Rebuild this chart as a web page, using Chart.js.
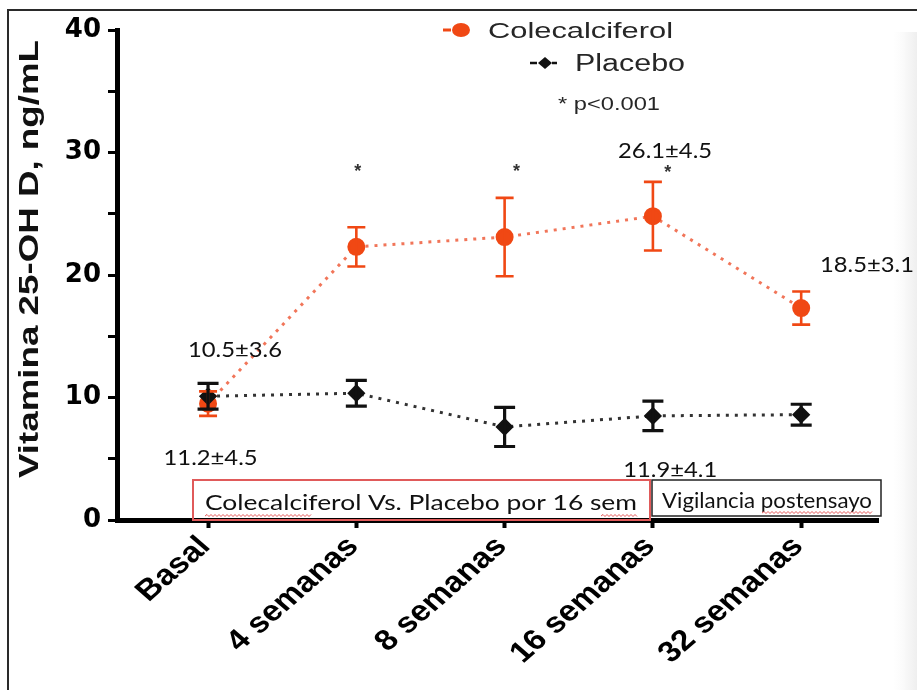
<!DOCTYPE html>
<html>
<head>
<meta charset="utf-8">
<script src="https://cdn.jsdelivr.net/npm/chart.js@4.4.1/dist/chart.umd.min.js"></script>
<style>
  html, body { margin: 0; padding: 0; background: #ffffff; }
  #wrap { position: relative; width: 917px; height: 690px; }
  canvas { display: block; }
</style>
</head>
<body>
<div id="wrap"><canvas id="c" width="917" height="690"></canvas></div>
<script>
// ---------------- data ----------------
const categories = ['Basal', '4 semanas', '8 semanas', '16 semanas', '32 semanas'];
const colecalciferolMean = [9.5, 22.3, 23.1, 24.8, 17.3];
const colecalciferolErr  = [1.0, 1.6, 3.2, 2.8, 1.35];
const placeboMean = [10.1, 10.35, 7.6, 8.5, 8.6];
const placeboErr  = [1.05, 1.05, 1.6, 1.2, 0.85];
const yTickLabels = [0, 10, 20, 30, 40];
const seriesNames = ['Colecalciferol', 'Placebo'];
const yAxisTitle = 'Vitamina 25-OH D, ng/mL';
const pValueNote = '* p<0.001';
const valueNotes = ['10.5±3.6', '11.2±4.5', '26.1±4.5', '18.5±3.1', '11.9±4.1'];
const significanceMarks = ['*', '*', '*'];
const phaseLabels = ['Colecalciferol Vs. Placebo por 16 sem', 'Vigilancia postensayo'];

// ---------------- layout (positions / styles only) ----------------
const noteSpots = [ // [x in category units, y in value units] of left/baseline
  [-0.135, 13.3], [-0.30, 4.49], [2.765, 29.55], [4.127, 20.24], [2.80, 3.51]
];
const markSpots = [[1.01, 28.4], [2.08, 28.4], [3.10, 28.3]];
const ORANGE = '#f04814';
const ORANGE_LINE = 'rgba(240,110,80,0.95)';
const BLACK = '#111111';
const XLABEL_STRETCH = 1.15;

function fitText(ctx, text, x, y, o) {
  ctx.save();
  ctx.font = (o.weight || 'normal') + ' ' + o.size + 'px ' + o.family;
  const w = ctx.measureText(text).width;
  const sx = o.width ? o.width / w : 1;
  ctx.translate(x, y);
  if (o.rotate) ctx.rotate(o.rotate);
  ctx.scale(sx, 1);
  ctx.textAlign = o.align || 'left';
  ctx.textBaseline = o.baseline || 'alphabetic';
  ctx.fillStyle = o.color || '#000';
  ctx.fillText(text, 0, 0);
  ctx.restore();
}

function squiggle(ctx, x0, x1, y) {
  ctx.save();
  ctx.strokeStyle = 'rgba(225,60,60,0.85)';
  ctx.lineWidth = 1;
  ctx.beginPath();
  let up = true;
  ctx.moveTo(x0, y);
  for (let x = x0 + 2; x <= x1; x += 2) { ctx.lineTo(x, up ? y - 1.5 : y + 0.5); up = !up; }
  ctx.stroke();
  ctx.restore();
}

const errorBars = {
  id: 'errorBars',
  afterDatasetsDraw(chart) {
    const ctx = chart.ctx, xs = chart.scales.x, ys = chart.scales.y;
    const sets = [
      { mean: colecalciferolMean, err: colecalciferolErr, color: ORANGE, lw: 2.6, cap: 9 },
      { mean: placeboMean, err: placeboErr, color: BLACK, lw: 3.2, cap: 10.5 }
    ];
    ctx.save();
    sets.forEach(s => {
      ctx.strokeStyle = s.color;
      ctx.lineWidth = s.lw;
      s.mean.forEach((m, i) => {
        const x = xs.getPixelForValue(i);
        const yt = ys.getPixelForValue(m + s.err[i]);
        const yb = ys.getPixelForValue(m - s.err[i]);
        ctx.beginPath();
        ctx.moveTo(x, yt); ctx.lineTo(x, yb);
        ctx.moveTo(x - s.cap, yt); ctx.lineTo(x + s.cap, yt);
        ctx.moveTo(x - s.cap, yb); ctx.lineTo(x + s.cap, yb);
        ctx.stroke();
      });
    });
    ctx.restore();
  }
};

// category labels drawn at the x scale's tick positions
const categoryLabels = {
  id: 'categoryLabels',
  afterDraw(chart) {
    const ctx = chart.ctx, xs = chart.scales.x;
    const y0 = xs.top + 22;
    ctx.save();
    ctx.font = 'bold 29px "Liberation Sans", Arial, sans-serif';
    ctx.fillStyle = '#000';
    ctx.textAlign = 'right';
    ctx.textBaseline = 'middle';
    xs.ticks.forEach((t, i) => {
      const x = xs.getPixelForValue(t.value);
      ctx.save();
      ctx.translate(x - 3, y0);
      ctx.scale(XLABEL_STRETCH, 1);
      ctx.rotate(-Math.PI / 4);
      ctx.fillText(categories[i], 0, 0);
      ctx.restore();
    });
    ctx.restore();
  }
};

const decorations = {
  id: 'decorations',
  afterDraw(chart) {
    const ctx = chart.ctx, xs = chart.scales.x, ys = chart.scales.y;
    // frame
    ctx.save();
    ctx.strokeStyle = '#2a2a2a';
    ctx.lineWidth = 2;
    ctx.beginPath();
    ctx.moveTo(8, 690); ctx.lineTo(8, 10); ctx.lineTo(917, 10);
    ctx.stroke();
    const g = ctx.createLinearGradient(894, 0, 917, 0);
    g.addColorStop(0, 'rgba(245,245,245,0)');
    g.addColorStop(1, 'rgba(238,238,238,1)');
    ctx.fillStyle = g;
    ctx.fillRect(894, 32, 23, 658);
    ctx.restore();

    // y-axis title
    fitText(ctx, yAxisTitle, 31, 259, { size: 27, family: '"Liberation Sans", Arial, sans-serif', weight: 'bold',
      width: 438, align: 'center', baseline: 'middle', rotate: -Math.PI / 2, color: '#111' });

    // legend
    ctx.save();
    ctx.strokeStyle = ORANGE; ctx.lineWidth = 3;
    ctx.beginPath(); ctx.moveTo(443, 30); ctx.lineTo(451, 30); ctx.stroke();
    ctx.fillStyle = ORANGE;
    ctx.beginPath(); ctx.ellipse(461, 30, 9, 7, 0, 0, Math.PI * 2); ctx.fill();
    ctx.strokeStyle = BLACK; ctx.lineWidth = 2.5;
    ctx.beginPath(); ctx.moveTo(530, 63); ctx.lineTo(537, 63); ctx.stroke();
    ctx.fillStyle = BLACK;
    ctx.beginPath(); ctx.moveTo(538, 63); ctx.lineTo(545, 57); ctx.lineTo(552, 63); ctx.lineTo(545, 69); ctx.closePath(); ctx.fill();
    ctx.beginPath(); ctx.moveTo(552, 63); ctx.lineTo(557, 63); ctx.stroke();
    ctx.restore();
    fitText(ctx, seriesNames[0], 488, 38, { size: 22, family: '"Liberation Sans", Arial, sans-serif', width: 185, color: '#262626' });
    fitText(ctx, seriesNames[1], 575, 71, { size: 23, family: '"Liberation Sans", Arial, sans-serif', width: 110, color: '#262626' });
    fitText(ctx, pValueNote, 558, 110, { size: 18, family: '"Liberation Sans", Arial, sans-serif', width: 102, color: '#262626' });

    // value notes
    valueNotes.forEach((t, i) => {
      const [vx, vy] = noteSpots[i];
      fitText(ctx, t, xs.getPixelForValue(vx), ys.getPixelForValue(vy),
        { size: 21, family: 'Lato, "Open Sans", sans-serif', width: 94, color: '#111' });
    });
    // significance marks
    significanceMarks.forEach((t, i) => {
      const [vx, vy] = markSpots[i];
      fitText(ctx, t, xs.getPixelForValue(vx), ys.getPixelForValue(vy),
        { size: 18, family: '"Liberation Sans", Arial, sans-serif', weight: 'bold', align: 'center', baseline: 'middle', color: '#333' });
    });

    // phase boxes
    ctx.save();
    ctx.fillStyle = '#ffffff';
    ctx.fillRect(193, 480, 457, 38);
    ctx.strokeStyle = '#e05a5a'; ctx.lineWidth = 2;
    ctx.strokeRect(193, 480, 457, 40);
    ctx.fillStyle = '#ffffff';
    ctx.fillRect(652, 480, 229, 36);
    ctx.strokeStyle = '#222'; ctx.lineWidth = 1.5;
    ctx.strokeRect(652, 480, 229, 36);
    ctx.restore();
    fitText(ctx, phaseLabels[0], 205, 510, { size: 21, family: 'Lato, "Open Sans", sans-serif', width: 432, color: '#111' });
    fitText(ctx, phaseLabels[1], 662, 508, { size: 21, family: 'Lato, "Open Sans", sans-serif', width: 210, color: '#111' });
    squiggle(ctx, 205, 311, 516);
    squiggle(ctx, 601, 637, 516);
    squiggle(ctx, 762, 872, 513);
  }
};

const ctx = document.getElementById('c').getContext('2d');
new Chart(ctx, {
  type: 'line',
  data: {
    datasets: [
      {
        label: seriesNames[1],
        data: placeboMean.map((v, i) => ({ x: i, y: v })),
        borderColor: '#333333',
        borderWidth: 3,
        borderDash: [3, 6],
        pointStyle: 'rectRot',
        pointRadius: 7,
        pointBackgroundColor: BLACK,
        pointBorderColor: BLACK,
        order: 0
      },
      {
        label: seriesNames[0],
        data: colecalciferolMean.map((v, i) => ({ x: i, y: v })),
        borderColor: ORANGE_LINE,
        borderWidth: 3,
        borderDash: [3, 6],
        pointStyle: 'circle',
        pointRadius: 7.5,
        pointBackgroundColor: ORANGE,
        pointBorderColor: ORANGE,
        order: 1
      }
    ]
  },
  options: {
    responsive: false,
    animation: false,
    devicePixelRatio: 1,
    layout: { padding: { top: 30, right: 39, left: 0, bottom: 0 } },
    plugins: { legend: { display: false }, tooltip: { enabled: false } },
    scales: {
      x: {
        type: 'linear',
        min: -0.614,
        max: 4.518,
        afterBuildTicks(scale) { scale.ticks = categories.map((c, i) => ({ value: i })); },
        afterFit(scale) { scale.height = 170; scale.paddingLeft = 0; scale.paddingRight = 0; },
        ticks: { display: false },
        grid: { drawOnChartArea: false, drawTicks: true, tickLength: 8, tickWidth: 4, color: '#000' },
        border: { display: true, color: '#000', width: 5 }
      },
      y: {
        type: 'linear',
        min: 0,
        max: 40,
        afterFit(scale) { scale.width = 117; },
        ticks: {
          stepSize: 5,
          callback: (v) => (yTickLabels.includes(v) ? String(v) : ''),
          padding: 7,
          color: '#000',
          font: { family: '"DejaVu Sans", sans-serif', weight: 'bold', size: 26 }
        },
        grid: { drawOnChartArea: false, drawTicks: true, tickLength: 9, tickWidth: 3, color: '#000' },
        border: { display: true, color: '#000', width: 5 }
      }
    }
  },
  plugins: [errorBars, categoryLabels, decorations]
});
</script>
</body>
</html>
